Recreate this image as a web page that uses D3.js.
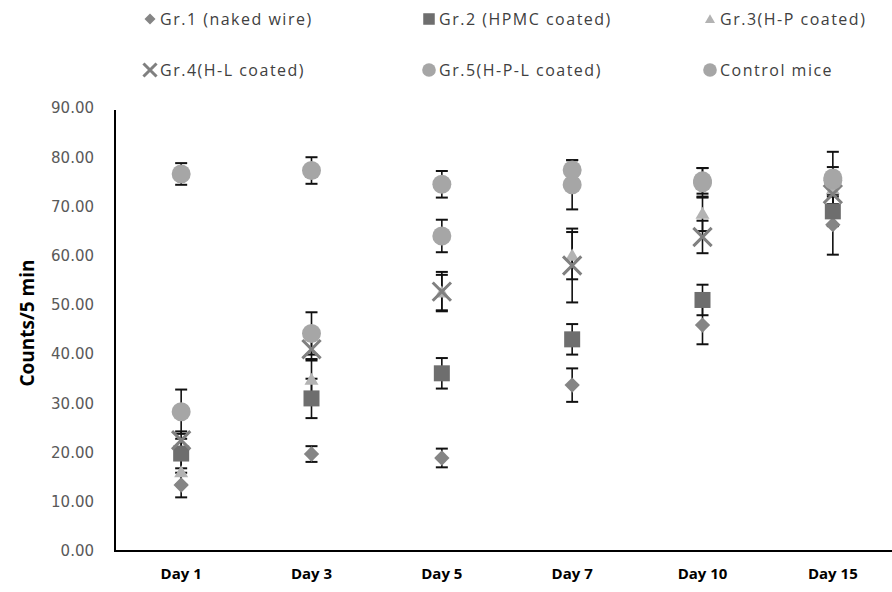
<!DOCTYPE html>
<html>
<head>
<meta charset="utf-8">
<script src="https://cdn.jsdelivr.net/npm/d3@7"></script>
<style>
  body { margin: 0; background: #ffffff; }
  svg { display: block; }
</style>
</head>
<body>
<svg id="dataVisualisation"></svg>
<script>
// DATA
var days = ["Day 1", "Day 3", "Day 5", "Day 7", "Day 10", "Day 15"];
var yTicks = [0, 10, 20, 30, 40, 50, 60, 70, 80, 90];

var gr1Mean = [13.4, 19.7, 18.9, 33.7, 45.9, 66.3];
var gr1Err  = [2.5, 1.6, 1.9, 3.4, 3.9, 6.1];
var gr2Mean = [19.8, 31.0, 36.1, 43.0, 51.0, 69.0];
var gr2Err  = [3.0, 4.0, 3.1, 3.1, 3.1, 3.0];
var gr3Mean = [16.0, 34.8, 52.5, 60.0, 68.5, 73.5];
var gr3Err  = [2.5, 3.9, 3.6, 4.8, 3.5, 3.0];
var gr4Mean = [22.5, 41.0, 52.7, 58.0, 63.8, 72.5];
var gr4Err  = [1.8, 2.0, 4.0, 7.5, 3.3, 3.0];
var gr5Mean = [28.3, 44.2, 64.0, 74.4, 74.8, 75.3];
var gr5Err  = [4.5, 4.3, 3.3, 5.0, 3.0, 5.8];
var ctrlMean = [76.6, 77.3, 74.5, 77.4, 75.2, 75.8];
var ctrlErr  = [2.2, 2.7, 2.7, 2.0, 2.6, 2.2];

var seriesNames = ["Gr.1 (naked wire)", "Gr.2 (HPMC coated)", "Gr.3(H-P coated)",
                   "Gr.4(H-L coated)", "Gr.5(H-P-L coated)", "Control mice"];

// NEEDED VARIABLES
var width = 892;
var height = 592;
var margin = {top: 108, right: -6, bottom: 41, left: 116};

var series = [
  {name: seriesNames[0], mean: gr1Mean, err: gr1Err, shape: "diamond", color: "#858585"},
  {name: seriesNames[1], mean: gr2Mean, err: gr2Err, shape: "square", color: "#6e6e6e"},
  {name: seriesNames[2], mean: gr3Mean, err: gr3Err, shape: "triangle", color: "#b3b3b3"},
  {name: seriesNames[3], mean: gr4Mean, err: gr4Err, shape: "cross", color: "#808080"},
  {name: seriesNames[4], mean: gr5Mean, err: gr5Err, shape: "circle", color: "#a6a6a6"},
  {name: seriesNames[5], mean: ctrlMean, err: ctrlErr, shape: "circle", color: "#a6a6a6"}
];

var svg = d3.select("#dataVisualisation")
  .attr("width", width)
  .attr("height", height)
  ;

// Scales
var xScale = d3.scaleBand()
  .domain(days)
  .range([margin.left, width - margin.right])
  ;

var yScale = d3.scaleLinear()
  .domain([0, 90])
  .range([height - margin.bottom, margin.top])
  ;

// Marker drawing
function drawMarker(g, shape, color, x, y, k) {
  if (shape == "circle") {
    g.append("circle")
      .attr("cx", x).attr("cy", y).attr("r", 9.5 * k)
      .attr("fill", color);
  } else if (shape == "square") {
    g.append("rect")
      .attr("x", x - 8 * k).attr("y", y - 8 * k)
      .attr("width", 16 * k).attr("height", 16 * k)
      .attr("fill", color);
  } else if (shape == "diamond") {
    g.append("path")
      .attr("d", d3.symbol(d3.symbolDiamond2, 150 * k * k)())
      .attr("transform", "translate(" + x + "," + y + ")")
      .attr("fill", color);
  } else if (shape == "triangle") {
    g.append("path")
      .attr("d", d3.symbol(d3.symbolTriangle2, 140 * k * k)())
      .attr("transform", "translate(" + x + "," + (y + 1) + ")")
      .attr("fill", color);
  } else if (shape == "cross") {
    g.append("path")
      .attr("d", d3.symbol(d3.symbolX, 220 * k * k)())
      .attr("transform", "translate(" + x + "," + y + ")")
      .attr("fill", "none")
      .attr("stroke", color)
      .attr("stroke-width", 3);
  }
}

// AXES
var yAxis = d3.axisLeft(yScale)
  .tickValues(yTicks)
  .tickFormat(d3.format(".2f"))
  .tickSize(0)
  .tickPadding(22)
  ;

var yAxisG = svg.append("g")
  .attr("transform", "translate(" + margin.left + ",0)")
  .call(yAxis)
  ;
yAxisG.select(".domain").remove();
yAxisG.selectAll("text")
  .attr("font-family", "DejaVu Sans")
  .attr("font-size", 15)
  .attr("fill", "#595959")
  ;

var xAxis = d3.axisBottom(xScale)
  .tickSize(0)
  .tickPadding(17)
  ;

var xAxisG = svg.append("g")
  .attr("transform", "translate(0," + (height - margin.bottom) + ")")
  .call(xAxis)
  ;
xAxisG.select(".domain").remove();
xAxisG.selectAll("text")
  .attr("font-family", "Open Sans")
  .attr("font-weight", "bold")
  .attr("font-size", 15)
  .attr("fill", "#000000")
  ;

// axis lines
svg.append("line")
  .attr("x1", margin.left - 1).attr("x2", margin.left - 1)
  .attr("y1", yScale(90) + 2).attr("y2", yScale(0) + 1)
  .attr("stroke", "#000").attr("stroke-width", 2)
  ;
svg.append("line")
  .attr("x1", margin.left - 2).attr("x2", width)
  .attr("y1", yScale(0)).attr("y2", yScale(0))
  .attr("stroke", "#000").attr("stroke-width", 2)
  ;

svg.append("text")
  .attr("transform", "translate(34," + 323 + ") rotate(-90)")
  .attr("text-anchor", "middle")
  .attr("font-family", "Open Sans")
  .attr("font-weight", "bold")
  .attr("font-size", 19)
  .attr("fill", "#000")
  .text("Counts/5 min")
  ;

// PLOTTING
var cx = function(i) { return xScale(days[i]) + xScale.bandwidth() / 2; };

// error bars sit behind all markers
var errG = svg.append("g").attr("id", "errorBars");
series.forEach(function(s) {
  s.mean.forEach(function(m, i) {
    var x = cx(i);
    var y0 = yScale(m - s.err[i]);
    var y1 = yScale(m + s.err[i]);
    errG.append("line")
      .attr("x1", x).attr("x2", x).attr("y1", y0).attr("y2", y1)
      .attr("stroke", "#111").attr("stroke-width", 1.6);
    [y0, y1].forEach(function(yy) {
      errG.append("line")
        .attr("x1", x - 6).attr("x2", x + 6).attr("y1", yy).attr("y2", yy)
        .attr("stroke", "#111").attr("stroke-width", 2);
    });
  });
});

var plot = svg.append("g").attr("id", "points");
series.forEach(function(s) {
  s.mean.forEach(function(m, i) {
    drawMarker(plot, s.shape, s.color, cx(i), yScale(m), 1);
  });
});

// LEGEND
var legendX = [150, 429, 710];
var legendY = [19, 70];
var legend = svg.append("g").attr("id", "legend");
series.forEach(function(s, i) {
  var lx = legendX[i % 3];
  var ly = legendY[Math.floor(i / 3)];
  drawMarker(legend, s.shape, s.color, lx, ly, 0.72);
  legend.append("text")
    .attr("x", lx + 10)
    .attr("y", ly)
    .attr("dy", "0.35em")
    .attr("font-family", "Open Sans")
    .attr("font-size", 16)
    .attr("letter-spacing", 1.5)
    .attr("fill", "#404040")
    .text(s.name);
});
</script>
</body>
</html>
